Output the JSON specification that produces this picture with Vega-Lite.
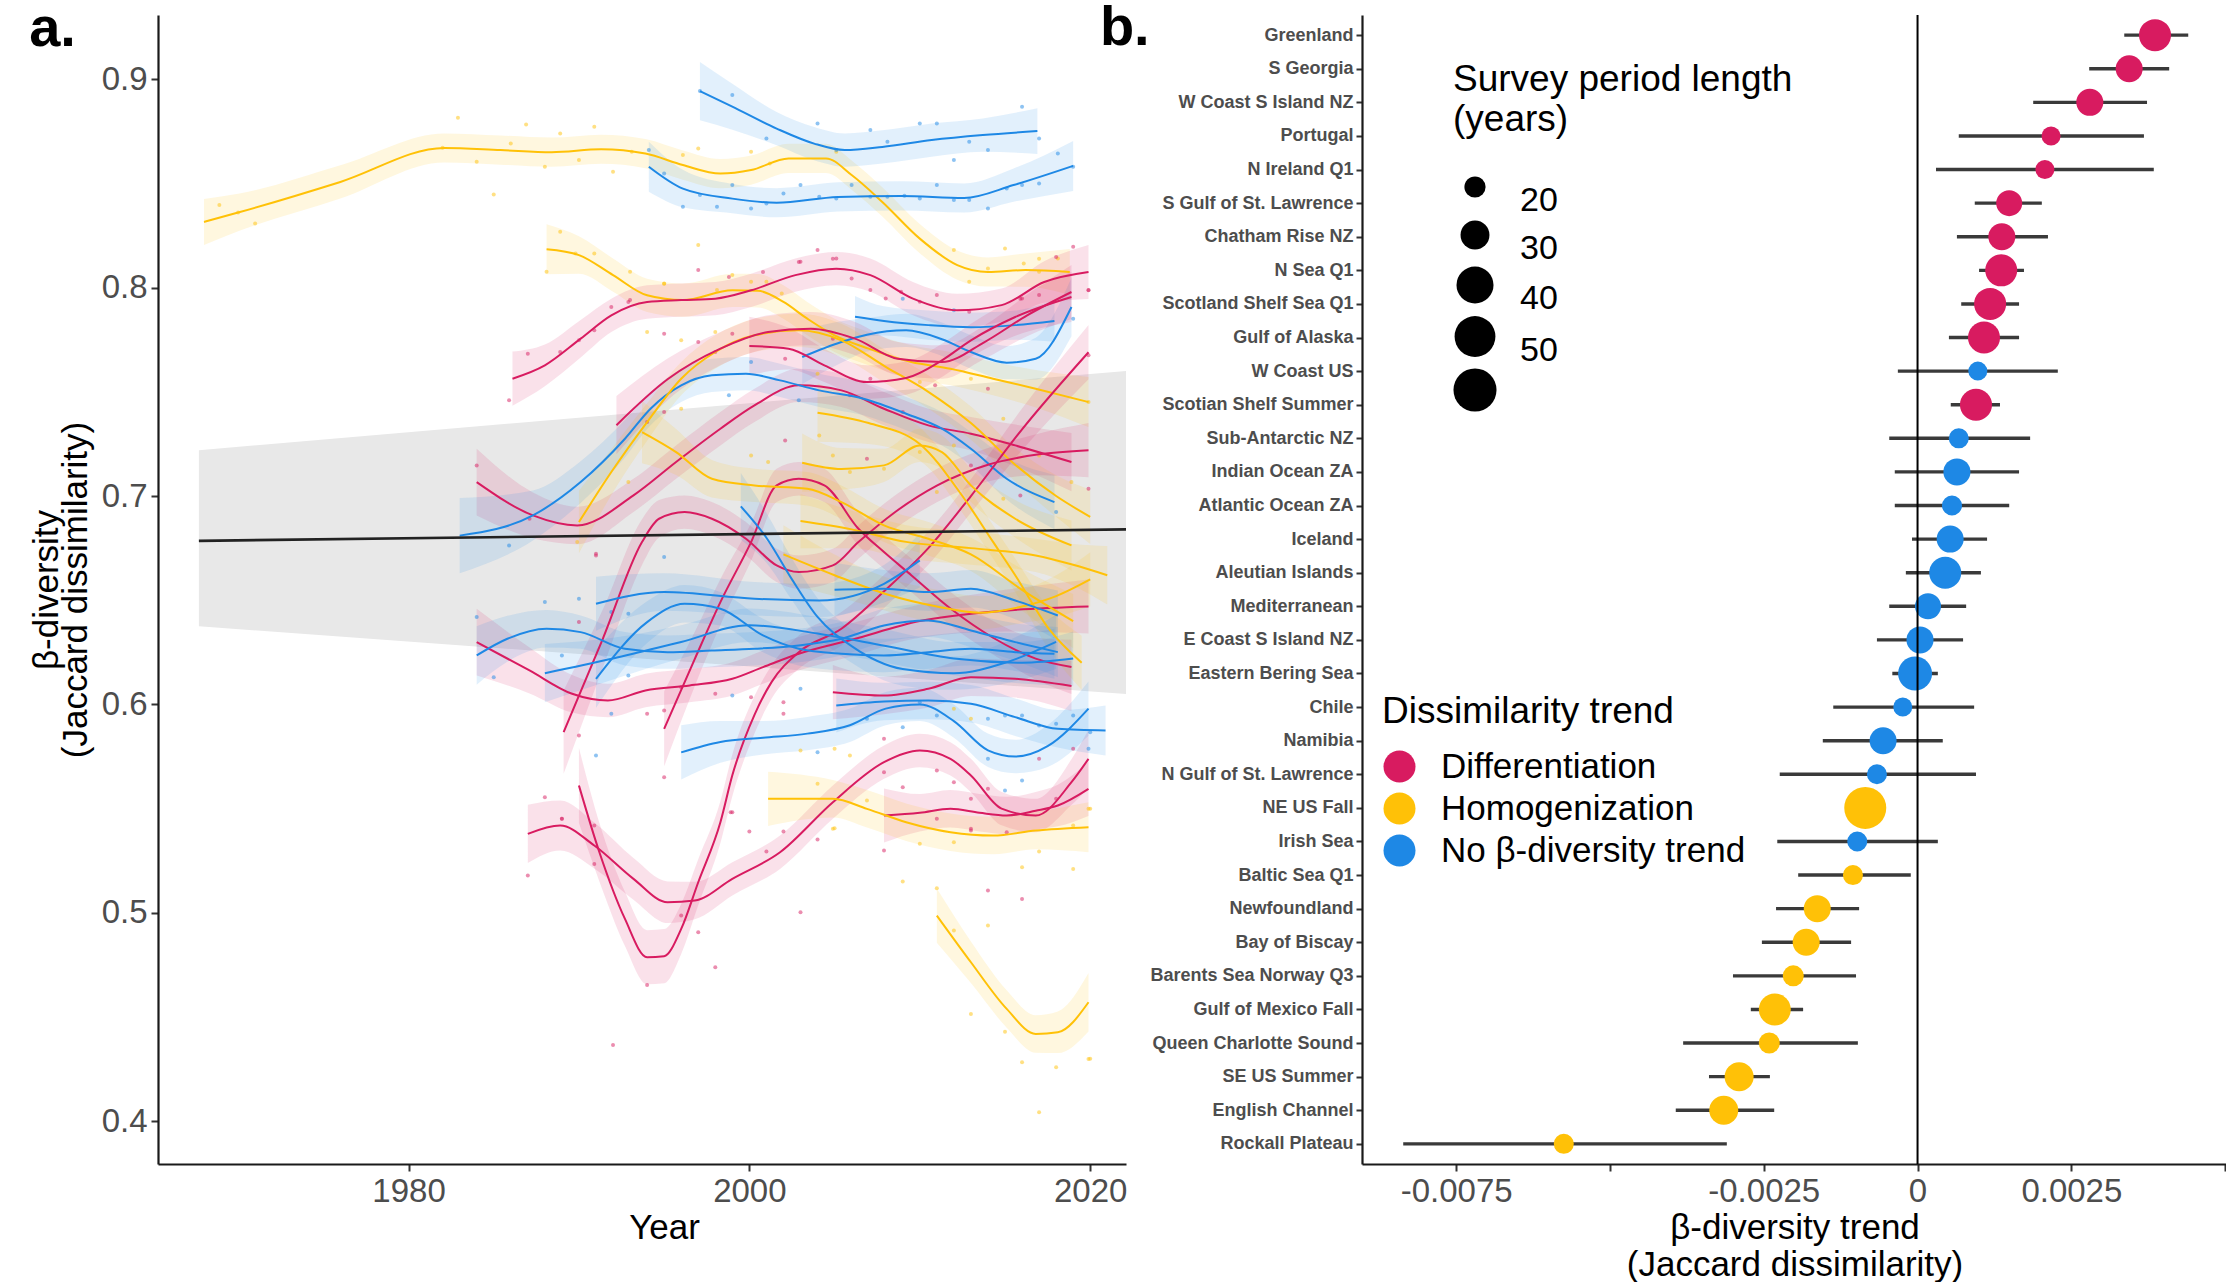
{
"$schema":"https://vega.github.io/schema/vega-lite/v6.json",
"background":"white",
"padding":{"left":29,"top":0,"right":0,"bottom":0},
"config":{"view":{"stroke":null},"font":"Liberation Sans",
"axis":{"grid":false,"labelFont":"Liberation Sans","titleFont":"Liberation Sans","labelColor":"#4d4d4d","titleColor":"#000000","titleFontWeight":"normal","domainColor":"#1a1a1a","domainWidth":2.2,"tickColor":"#333333","tickWidth":2,"tickSize":7,"labelFontSize":33,"titleFontSize":35,"labelPadding":4,"labelOverlap":false},
"legend":{"labelFont":"Liberation Sans","titleFont":"Liberation Sans"},
"title":{"font":"Liberation Sans"}},
"datasets":{
"fit":[{"yr":1967.7,"v":0.6785,"lo":0.6375,"hi":0.722},{"yr":2022.1,"v":0.684,"lo":0.605,"hi":0.76}],
"curves":[
{"s":"Y1","g":"H","yr":1968.0,"v":0.8315,"lo":0.8205,"hi":0.8425},{"s":"Y1","g":"H","yr":1970.0,"v":0.836,"lo":0.827,"hi":0.845},{"s":"Y1","g":"H","yr":1976.0,"v":0.8507,"lo":0.8427,"hi":0.8587},{"s":"Y1","g":"H","yr":1982.1,"v":0.867,"lo":0.86,"hi":0.874},{"s":"Y1","g":"H","yr":1985.4,"v":0.866,"lo":0.859,"hi":0.873},{"s":"Y1","g":"H","yr":1988.4,"v":0.865,"lo":0.858,"hi":0.872},{"s":"Y1","g":"H","yr":1991.3,"v":0.8664,"lo":0.8594,"hi":0.8734},{"s":"Y1","g":"H","yr":1993.9,"v":0.8643,"lo":0.8573,"hi":0.8713},{"s":"Y1","g":"H","yr":1996.1,"v":0.8588,"lo":0.8518,"hi":0.8658},{"s":"Y1","g":"H","yr":1998.3,"v":0.8547,"lo":0.8477,"hi":0.8617},{"s":"Y1","g":"H","yr":2000.1,"v":0.8564,"lo":0.8494,"hi":0.8634},{"s":"Y1","g":"H","yr":2002.3,"v":0.862,"lo":0.855,"hi":0.869},{"s":"Y1","g":"H","yr":2004.5,"v":0.862,"lo":0.855,"hi":0.869},{"s":"Y1","g":"H","yr":2006.0,"v":0.854,"lo":0.847,"hi":0.861},{"s":"Y1","g":"H","yr":2007.8,"v":0.8411,"lo":0.8341,"hi":0.8481},{"s":"Y1","g":"H","yr":2010.0,"v":0.8235,"lo":0.8165,"hi":0.8305},{"s":"Y1","g":"H","yr":2012.2,"v":0.8108,"lo":0.8038,"hi":0.8178},{"s":"Y1","g":"H","yr":2014.0,"v":0.8075,"lo":0.8005,"hi":0.8145},{"s":"Y1","g":"H","yr":2016.2,"v":0.8084,"lo":0.8004,"hi":0.8164},{"s":"Y1","g":"H","yr":2018.8,"v":0.8075,"lo":0.7965,"hi":0.8185},
{"s":"B1","g":"N","yr":1997.1,"v":0.8943,"lo":0.8803,"hi":0.9083},{"s":"B1","g":"N","yr":1999.0,"v":0.8868,"lo":0.8758,"hi":0.8978},{"s":"B1","g":"N","yr":2001.6,"v":0.8763,"lo":0.8683,"hi":0.8843},{"s":"B1","g":"N","yr":2003.8,"v":0.8691,"lo":0.8611,"hi":0.8771},{"s":"B1","g":"N","yr":2005.6,"v":0.866,"lo":0.858,"hi":0.874},{"s":"B1","g":"N","yr":2007.8,"v":0.8675,"lo":0.8595,"hi":0.8755},{"s":"B1","g":"N","yr":2010.7,"v":0.8708,"lo":0.8628,"hi":0.8788},{"s":"B1","g":"N","yr":2013.7,"v":0.8732,"lo":0.8652,"hi":0.8812},{"s":"B1","g":"N","yr":2016.9,"v":0.8751,"lo":0.8641,"hi":0.8861},
{"s":"B2","g":"N","yr":1994.1,"v":0.858,"lo":0.846,"hi":0.87},{"s":"B2","g":"N","yr":1996.1,"v":0.8475,"lo":0.8385,"hi":0.8565},{"s":"B2","g":"N","yr":1999.0,"v":0.8427,"lo":0.8357,"hi":0.8497},{"s":"B2","g":"N","yr":2001.6,"v":0.8407,"lo":0.8337,"hi":0.8477},{"s":"B2","g":"N","yr":2005.2,"v":0.8435,"lo":0.8365,"hi":0.8505},{"s":"B2","g":"N","yr":2008.9,"v":0.844,"lo":0.837,"hi":0.851},{"s":"B2","g":"N","yr":2012.6,"v":0.843,"lo":0.836,"hi":0.85},{"s":"B2","g":"N","yr":2015.5,"v":0.8492,"lo":0.8412,"hi":0.8572},{"s":"B2","g":"N","yr":2019.0,"v":0.8584,"lo":0.8464,"hi":0.8704},
{"s":"Y2","g":"H","yr":1988.1,"v":0.8184,"lo":0.8064,"hi":0.8304},{"s":"Y2","g":"H","yr":1990.0,"v":0.8156,"lo":0.8066,"hi":0.8246},{"s":"Y2","g":"H","yr":1992.0,"v":0.806,"lo":0.798,"hi":0.814},{"s":"Y2","g":"H","yr":1994.0,"v":0.7963,"lo":0.7883,"hi":0.8043},{"s":"Y2","g":"H","yr":1996.1,"v":0.794,"lo":0.786,"hi":0.802},{"s":"Y2","g":"H","yr":1999.0,"v":0.7987,"lo":0.7907,"hi":0.8067},{"s":"Y2","g":"H","yr":2000.5,"v":0.7985,"lo":0.7905,"hi":0.8065},{"s":"Y2","g":"H","yr":2002.0,"v":0.7931,"lo":0.7851,"hi":0.8011},{"s":"Y2","g":"H","yr":2003.4,"v":0.7851,"lo":0.7771,"hi":0.7931},{"s":"Y2","g":"H","yr":2005.0,"v":0.7771,"lo":0.7691,"hi":0.7851},{"s":"Y2","g":"H","yr":2007.0,"v":0.7707,"lo":0.7627,"hi":0.7787},{"s":"Y2","g":"H","yr":2009.5,"v":0.7643,"lo":0.7563,"hi":0.7723},{"s":"Y2","g":"H","yr":2011.8,"v":0.7611,"lo":0.7531,"hi":0.7691},{"s":"Y2","g":"H","yr":2014.3,"v":0.7563,"lo":0.7483,"hi":0.7643},{"s":"Y2","g":"H","yr":2016.8,"v":0.7515,"lo":0.7425,"hi":0.7605},{"s":"Y2","g":"H","yr":2019.9,"v":0.7451,"lo":0.7331,"hi":0.7571},
{"s":"R1","g":"D","yr":1986.1,"v":0.7563,"lo":0.7433,"hi":0.7693},{"s":"R1","g":"D","yr":1988.0,"v":0.7627,"lo":0.7527,"hi":0.7727},{"s":"R1","g":"D","yr":1990.1,"v":0.7755,"lo":0.7665,"hi":0.7845},{"s":"R1","g":"D","yr":1991.9,"v":0.7867,"lo":0.7787,"hi":0.7947},{"s":"R1","g":"D","yr":1994.0,"v":0.7931,"lo":0.7851,"hi":0.8011},{"s":"R1","g":"D","yr":1996.0,"v":0.794,"lo":0.786,"hi":0.802},{"s":"R1","g":"D","yr":1998.0,"v":0.7947,"lo":0.7867,"hi":0.8027},{"s":"R1","g":"D","yr":2000.1,"v":0.7987,"lo":0.7907,"hi":0.8067},{"s":"R1","g":"D","yr":2002.7,"v":0.806,"lo":0.798,"hi":0.814},{"s":"R1","g":"D","yr":2005.1,"v":0.8091,"lo":0.8011,"hi":0.8171},{"s":"R1","g":"D","yr":2007.1,"v":0.806,"lo":0.798,"hi":0.814},{"s":"R1","g":"D","yr":2009.6,"v":0.7947,"lo":0.7867,"hi":0.8027},{"s":"R1","g":"D","yr":2012.2,"v":0.7891,"lo":0.7811,"hi":0.7971},{"s":"R1","g":"D","yr":2014.8,"v":0.7916,"lo":0.7836,"hi":0.7996},{"s":"R1","g":"D","yr":2017.3,"v":0.8027,"lo":0.7927,"hi":0.8127},{"s":"R1","g":"D","yr":2019.9,"v":0.8075,"lo":0.7945,"hi":0.8205},
{"s":"B3","g":"N","yr":2006.2,"v":0.786,"lo":0.776,"hi":0.796},{"s":"B3","g":"N","yr":2007.9,"v":0.784,"lo":0.777,"hi":0.791},{"s":"B3","g":"N","yr":2010.5,"v":0.782,"lo":0.775,"hi":0.789},{"s":"B3","g":"N","yr":2013.0,"v":0.781,"lo":0.774,"hi":0.788},{"s":"B3","g":"N","yr":2015.6,"v":0.782,"lo":0.775,"hi":0.789},{"s":"B3","g":"N","yr":2017.9,"v":0.784,"lo":0.774,"hi":0.794},
{"s":"B4","g":"N","yr":2003.1,"v":0.7667,"lo":0.7537,"hi":0.7797},{"s":"B4","g":"N","yr":2005.4,"v":0.7739,"lo":0.7639,"hi":0.7839},{"s":"B4","g":"N","yr":2006.9,"v":0.7774,"lo":0.7694,"hi":0.7854},{"s":"B4","g":"N","yr":2009.2,"v":0.7795,"lo":0.7715,"hi":0.7875},{"s":"B4","g":"N","yr":2011.3,"v":0.7752,"lo":0.7672,"hi":0.7832},{"s":"B4","g":"N","yr":2013.0,"v":0.7691,"lo":0.7611,"hi":0.7771},{"s":"B4","g":"N","yr":2015.1,"v":0.764,"lo":0.756,"hi":0.772},{"s":"B4","g":"N","yr":2016.8,"v":0.7659,"lo":0.7559,"hi":0.7759},{"s":"B4","g":"N","yr":2018.9,"v":0.7907,"lo":0.7767,"hi":0.8047},
{"s":"RL","g":"D","yr":1984.0,"v":0.7067,"lo":0.6907,"hi":0.7227},{"s":"RL","g":"D","yr":1987.3,"v":0.6907,"lo":0.6797,"hi":0.7017},{"s":"RL","g":"D","yr":1989.9,"v":0.6859,"lo":0.6769,"hi":0.6949},{"s":"RL","g":"D","yr":1993.2,"v":0.7003,"lo":0.6923,"hi":0.7083},{"s":"RL","g":"D","yr":1995.7,"v":0.7163,"lo":0.7083,"hi":0.7243},{"s":"RL","g":"D","yr":1998.3,"v":0.7323,"lo":0.7243,"hi":0.7403},{"s":"RL","g":"D","yr":2000.3,"v":0.7435,"lo":0.7355,"hi":0.7515},{"s":"RL","g":"D","yr":2002.9,"v":0.7531,"lo":0.7451,"hi":0.7611},{"s":"RL","g":"D","yr":2005.4,"v":0.7507,"lo":0.7427,"hi":0.7587},{"s":"RL","g":"D","yr":2007.9,"v":0.7419,"lo":0.7339,"hi":0.7499},{"s":"RL","g":"D","yr":2010.5,"v":0.7339,"lo":0.7259,"hi":0.7419},{"s":"RL","g":"D","yr":2013.0,"v":0.7299,"lo":0.7219,"hi":0.7379},{"s":"RL","g":"D","yr":2015.6,"v":0.7243,"lo":0.7143,"hi":0.7343},{"s":"RL","g":"D","yr":2018.9,"v":0.7163,"lo":0.7023,"hi":0.7303},
{"s":"B5","g":"N","yr":1983.0,"v":0.681,"lo":0.663,"hi":0.699},{"s":"B5","g":"N","yr":1987.3,"v":0.6907,"lo":0.6787,"hi":0.7027},{"s":"B5","g":"N","yr":1990.1,"v":0.7067,"lo":0.6967,"hi":0.7167},{"s":"B5","g":"N","yr":1992.7,"v":0.7275,"lo":0.7185,"hi":0.7365},{"s":"B5","g":"N","yr":1994.2,"v":0.7419,"lo":0.7339,"hi":0.7499},{"s":"B5","g":"N","yr":1996.0,"v":0.7531,"lo":0.7451,"hi":0.7611},{"s":"B5","g":"N","yr":1997.8,"v":0.7579,"lo":0.7499,"hi":0.7659},{"s":"B5","g":"N","yr":1999.8,"v":0.7587,"lo":0.7507,"hi":0.7667},{"s":"B5","g":"N","yr":2001.8,"v":0.7555,"lo":0.7475,"hi":0.7635},{"s":"B5","g":"N","yr":2004.1,"v":0.7507,"lo":0.7427,"hi":0.7587},{"s":"B5","g":"N","yr":2006.7,"v":0.7467,"lo":0.7387,"hi":0.7547},{"s":"B5","g":"N","yr":2009.2,"v":0.7395,"lo":0.7315,"hi":0.7475},{"s":"B5","g":"N","yr":2011.3,"v":0.7323,"lo":0.7243,"hi":0.7403},{"s":"B5","g":"N","yr":2013.0,"v":0.7227,"lo":0.7147,"hi":0.7307},{"s":"B5","g":"N","yr":2015.1,"v":0.7083,"lo":0.6983,"hi":0.7183},{"s":"B5","g":"N","yr":2017.9,"v":0.6971,"lo":0.6841,"hi":0.7101},
{"s":"Y3","g":"H","yr":1990.0,"v":0.6875,"lo":0.6725,"hi":0.7025},{"s":"Y3","g":"H","yr":1991.9,"v":0.7115,"lo":0.7005,"hi":0.7225},{"s":"Y3","g":"H","yr":1994.0,"v":0.7355,"lo":0.7265,"hi":0.7445},{"s":"Y3","g":"H","yr":1996.0,"v":0.7563,"lo":0.7483,"hi":0.7643},{"s":"Y3","g":"H","yr":1998.0,"v":0.7691,"lo":0.7611,"hi":0.7771},{"s":"Y3","g":"H","yr":2000.3,"v":0.7771,"lo":0.7691,"hi":0.7851},{"s":"Y3","g":"H","yr":2002.9,"v":0.7795,"lo":0.7715,"hi":0.7875},{"s":"Y3","g":"H","yr":2005.4,"v":0.7747,"lo":0.7667,"hi":0.7827},{"s":"Y3","g":"H","yr":2008.0,"v":0.762,"lo":0.754,"hi":0.77},{"s":"Y3","g":"H","yr":2010.5,"v":0.75,"lo":0.742,"hi":0.758},{"s":"Y3","g":"H","yr":2013.0,"v":0.735,"lo":0.727,"hi":0.743},{"s":"Y3","g":"H","yr":2015.6,"v":0.715,"lo":0.707,"hi":0.723},{"s":"Y3","g":"H","yr":2018.0,"v":0.7,"lo":0.69,"hi":0.71},{"s":"Y3","g":"H","yr":2020.0,"v":0.69,"lo":0.677,"hi":0.703},
{"s":"R3","g":"D","yr":1992.2,"v":0.734,"lo":0.72,"hi":0.748},{"s":"R3","g":"D","yr":1995.2,"v":0.756,"lo":0.746,"hi":0.766},{"s":"R3","g":"D","yr":1998.3,"v":0.7707,"lo":0.7627,"hi":0.7787},{"s":"R3","g":"D","yr":2001.1,"v":0.7787,"lo":0.7707,"hi":0.7867},{"s":"R3","g":"D","yr":2003.6,"v":0.7803,"lo":0.7723,"hi":0.7883},{"s":"R3","g":"D","yr":2006.2,"v":0.7755,"lo":0.7675,"hi":0.7835},{"s":"R3","g":"D","yr":2008.7,"v":0.7659,"lo":0.7579,"hi":0.7739},{"s":"R3","g":"D","yr":2011.3,"v":0.7643,"lo":0.7563,"hi":0.7723},{"s":"R3","g":"D","yr":2013.8,"v":0.7739,"lo":0.7659,"hi":0.7819},{"s":"R3","g":"D","yr":2016.3,"v":0.7867,"lo":0.7767,"hi":0.7967},{"s":"R3","g":"D","yr":2018.9,"v":0.7979,"lo":0.7849,"hi":0.8109},
{"s":"R4","g":"D","yr":2000.0,"v":0.772,"lo":0.758,"hi":0.786},{"s":"R4","g":"D","yr":2002.3,"v":0.7707,"lo":0.7607,"hi":0.7807},{"s":"R4","g":"D","yr":2004.4,"v":0.7627,"lo":0.7547,"hi":0.7707},{"s":"R4","g":"D","yr":2006.9,"v":0.7547,"lo":0.7467,"hi":0.7627},{"s":"R4","g":"D","yr":2009.2,"v":0.7566,"lo":0.7486,"hi":0.7646},{"s":"R4","g":"D","yr":2011.3,"v":0.7651,"lo":0.7571,"hi":0.7731},{"s":"R4","g":"D","yr":2013.0,"v":0.7747,"lo":0.7667,"hi":0.7827},{"s":"R4","g":"D","yr":2015.6,"v":0.7859,"lo":0.7769,"hi":0.7949},{"s":"R4","g":"D","yr":2018.9,"v":0.7955,"lo":0.7835,"hi":0.8075},
{"s":"R5","g":"D","yr":1990.0,"v":0.5611,"lo":0.5431,"hi":0.5791},{"s":"R5","g":"D","yr":1991.2,"v":0.5291,"lo":0.5151,"hi":0.5431},{"s":"R5","g":"D","yr":1992.7,"v":0.4971,"lo":0.4841,"hi":0.5101},{"s":"R5","g":"D","yr":1994.0,"v":0.4787,"lo":0.4657,"hi":0.4917},{"s":"R5","g":"D","yr":1995.0,"v":0.4792,"lo":0.4662,"hi":0.4922},{"s":"R5","g":"D","yr":1996.0,"v":0.4923,"lo":0.4803,"hi":0.5043},{"s":"R5","g":"D","yr":1997.0,"v":0.5147,"lo":0.5037,"hi":0.5257},{"s":"R5","g":"D","yr":1998.3,"v":0.5435,"lo":0.5335,"hi":0.5535},{"s":"R5","g":"D","yr":1999.0,"v":0.566,"lo":0.556,"hi":0.576},{"s":"R5","g":"D","yr":2000.3,"v":0.595,"lo":0.586,"hi":0.604},{"s":"R5","g":"D","yr":2001.3,"v":0.6107,"lo":0.6027,"hi":0.6187},{"s":"R5","g":"D","yr":2002.9,"v":0.6251,"lo":0.6171,"hi":0.6331},{"s":"R5","g":"D","yr":2005.4,"v":0.6363,"lo":0.6283,"hi":0.6443},{"s":"R5","g":"D","yr":2008.0,"v":0.655,"lo":0.647,"hi":0.663},{"s":"R5","g":"D","yr":2010.5,"v":0.675,"lo":0.667,"hi":0.683},{"s":"R5","g":"D","yr":2013.0,"v":0.7,"lo":0.692,"hi":0.708},{"s":"R5","g":"D","yr":2016.0,"v":0.732,"lo":0.722,"hi":0.742},{"s":"R5","g":"D","yr":2019.9,"v":0.769,"lo":0.756,"hi":0.782},
{"s":"R6","g":"D","yr":1989.1,"v":0.5867,"lo":0.5667,"hi":0.6067},{"s":"R6","g":"D","yr":1991.4,"v":0.6315,"lo":0.6175,"hi":0.6455},{"s":"R6","g":"D","yr":1993.7,"v":0.6779,"lo":0.6669,"hi":0.6889},{"s":"R6","g":"D","yr":1994.7,"v":0.6891,"lo":0.6801,"hi":0.6981},{"s":"R6","g":"D","yr":1996.2,"v":0.6923,"lo":0.6843,"hi":0.7003},{"s":"R6","g":"D","yr":1997.8,"v":0.6891,"lo":0.6811,"hi":0.6971},{"s":"R6","g":"D","yr":1999.8,"v":0.6795,"lo":0.6715,"hi":0.6875},{"s":"R6","g":"D","yr":2001.6,"v":0.6667,"lo":0.6587,"hi":0.6747},{"s":"R6","g":"D","yr":2002.9,"v":0.6635,"lo":0.6555,"hi":0.6715},{"s":"R6","g":"D","yr":2004.9,"v":0.6667,"lo":0.6587,"hi":0.6747},{"s":"R6","g":"D","yr":2006.4,"v":0.6779,"lo":0.6699,"hi":0.6859},{"s":"R6","g":"D","yr":2008.5,"v":0.692,"lo":0.684,"hi":0.7},{"s":"R6","g":"D","yr":2011.0,"v":0.705,"lo":0.697,"hi":0.713},{"s":"R6","g":"D","yr":2014.0,"v":0.715,"lo":0.707,"hi":0.723},{"s":"R6","g":"D","yr":2017.0,"v":0.72,"lo":0.71,"hi":0.73},{"s":"R6","g":"D","yr":2019.9,"v":0.722,"lo":0.709,"hi":0.735},
{"s":"R7","g":"D","yr":1995.0,"v":0.5883,"lo":0.5703,"hi":0.6063},{"s":"R7","g":"D","yr":1996.8,"v":0.6219,"lo":0.6089,"hi":0.6349},{"s":"R7","g":"D","yr":1998.3,"v":0.6491,"lo":0.6381,"hi":0.6601},{"s":"R7","g":"D","yr":2000.1,"v":0.6779,"lo":0.6689,"hi":0.6869},{"s":"R7","g":"D","yr":2001.6,"v":0.7051,"lo":0.6971,"hi":0.7131},{"s":"R7","g":"D","yr":2002.9,"v":0.7083,"lo":0.7003,"hi":0.7163},{"s":"R7","g":"D","yr":2004.4,"v":0.7051,"lo":0.6971,"hi":0.7131},{"s":"R7","g":"D","yr":2006.4,"v":0.6843,"lo":0.6763,"hi":0.6923},{"s":"R7","g":"D","yr":2007.9,"v":0.6731,"lo":0.6651,"hi":0.6811},{"s":"R7","g":"D","yr":2009.5,"v":0.662,"lo":0.654,"hi":0.67},{"s":"R7","g":"D","yr":2011.8,"v":0.646,"lo":0.638,"hi":0.654},{"s":"R7","g":"D","yr":2014.3,"v":0.632,"lo":0.624,"hi":0.64},{"s":"R7","g":"D","yr":2016.8,"v":0.622,"lo":0.612,"hi":0.632},{"s":"R7","g":"D","yr":2018.9,"v":0.618,"lo":0.605,"hi":0.631},
{"s":"V1","g":"D","yr":1987.0,"v":0.5379,"lo":0.5239,"hi":0.5519},{"s":"V1","g":"D","yr":1988.9,"v":0.5419,"lo":0.5299,"hi":0.5539},{"s":"V1","g":"D","yr":1990.9,"v":0.5323,"lo":0.5213,"hi":0.5433},{"s":"V1","g":"D","yr":1993.2,"v":0.5163,"lo":0.5063,"hi":0.5263},{"s":"V1","g":"D","yr":1995.2,"v":0.5051,"lo":0.4951,"hi":0.5151},{"s":"V1","g":"D","yr":1996.8,"v":0.5059,"lo":0.4969,"hi":0.5149},{"s":"V1","g":"D","yr":1999.0,"v":0.5163,"lo":0.5083,"hi":0.5243},{"s":"V1","g":"D","yr":2001.8,"v":0.5291,"lo":0.5211,"hi":0.5371},{"s":"V1","g":"D","yr":2004.9,"v":0.5531,"lo":0.5451,"hi":0.5611},{"s":"V1","g":"D","yr":2007.9,"v":0.5723,"lo":0.5643,"hi":0.5803},{"s":"V1","g":"D","yr":2010.0,"v":0.5779,"lo":0.5699,"hi":0.5859},{"s":"V1","g":"D","yr":2011.8,"v":0.5739,"lo":0.5659,"hi":0.5819},{"s":"V1","g":"D","yr":2013.0,"v":0.5659,"lo":0.5579,"hi":0.5739},{"s":"V1","g":"D","yr":2014.8,"v":0.55,"lo":0.542,"hi":0.558},{"s":"V1","g":"D","yr":2016.8,"v":0.5467,"lo":0.5387,"hi":0.5547},{"s":"V1","g":"D","yr":2018.9,"v":0.5627,"lo":0.5517,"hi":0.5737},{"s":"V1","g":"D","yr":2019.9,"v":0.5739,"lo":0.5599,"hi":0.5879},
{"s":"RLo","g":"D","yr":1984.0,"v":0.6299,"lo":0.6139,"hi":0.6459},{"s":"RLo","g":"D","yr":1987.1,"v":0.6163,"lo":0.6053,"hi":0.6273},{"s":"RLo","g":"D","yr":1989.6,"v":0.6051,"lo":0.5961,"hi":0.6141},{"s":"RLo","g":"D","yr":1991.7,"v":0.6019,"lo":0.5939,"hi":0.6099},{"s":"RLo","g":"D","yr":1993.9,"v":0.6067,"lo":0.5987,"hi":0.6147},{"s":"RLo","g":"D","yr":1996.5,"v":0.6091,"lo":0.6011,"hi":0.6171},{"s":"RLo","g":"D","yr":1999.0,"v":0.6123,"lo":0.6043,"hi":0.6203},{"s":"RLo","g":"D","yr":2000.8,"v":0.6179,"lo":0.6099,"hi":0.6259},{"s":"RLo","g":"D","yr":2002.9,"v":0.6243,"lo":0.6163,"hi":0.6323},{"s":"RLo","g":"D","yr":2006.0,"v":0.631,"lo":0.623,"hi":0.639},{"s":"RLo","g":"D","yr":2010.0,"v":0.64,"lo":0.632,"hi":0.648},{"s":"RLo","g":"D","yr":2015.0,"v":0.645,"lo":0.635,"hi":0.655},{"s":"RLo","g":"D","yr":2019.9,"v":0.647,"lo":0.634,"hi":0.66},
{"s":"RF","g":"D","yr":2007.9,"v":0.5467,"lo":0.5337,"hi":0.5597},{"s":"RF","g":"D","yr":2010.0,"v":0.548,"lo":0.539,"hi":0.557},{"s":"RF","g":"D","yr":2011.8,"v":0.5499,"lo":0.5409,"hi":0.5589},{"s":"RF","g":"D","yr":2013.5,"v":0.548,"lo":0.539,"hi":0.557},{"s":"RF","g":"D","yr":2015.1,"v":0.5467,"lo":0.5377,"hi":0.5557},{"s":"RF","g":"D","yr":2016.8,"v":0.549,"lo":0.54,"hi":0.558},{"s":"RF","g":"D","yr":2018.1,"v":0.5515,"lo":0.5415,"hi":0.5615},{"s":"RF","g":"D","yr":2019.9,"v":0.5595,"lo":0.5465,"hi":0.5725},
{"s":"R609","g":"D","yr":2004.9,"v":0.6059,"lo":0.5929,"hi":0.6189},{"s":"R609","g":"D","yr":2007.9,"v":0.6043,"lo":0.5953,"hi":0.6133},{"s":"R609","g":"D","yr":2010.5,"v":0.6075,"lo":0.5985,"hi":0.6165},{"s":"R609","g":"D","yr":2013.0,"v":0.6131,"lo":0.6041,"hi":0.6221},{"s":"R609","g":"D","yr":2015.6,"v":0.6123,"lo":0.6033,"hi":0.6213},{"s":"R609","g":"D","yr":2018.9,"v":0.6088,"lo":0.5968,"hi":0.6208},
{"s":"Y4","g":"H","yr":1993.7,"v":0.7307,"lo":0.7157,"hi":0.7457},{"s":"Y4","g":"H","yr":1995.7,"v":0.7211,"lo":0.7101,"hi":0.7321},{"s":"Y4","g":"H","yr":1997.8,"v":0.7083,"lo":0.6993,"hi":0.7173},{"s":"Y4","g":"H","yr":2000.3,"v":0.7051,"lo":0.6971,"hi":0.7131},{"s":"Y4","g":"H","yr":2003.4,"v":0.7035,"lo":0.6955,"hi":0.7115},{"s":"Y4","g":"H","yr":2005.4,"v":0.6971,"lo":0.6891,"hi":0.7051},{"s":"Y4","g":"H","yr":2007.9,"v":0.6859,"lo":0.6779,"hi":0.6939},{"s":"Y4","g":"H","yr":2010.5,"v":0.6795,"lo":0.6715,"hi":0.6875},{"s":"Y4","g":"H","yr":2013.0,"v":0.672,"lo":0.664,"hi":0.68},{"s":"Y4","g":"H","yr":2016.0,"v":0.655,"lo":0.645,"hi":0.665},{"s":"Y4","g":"H","yr":2019.0,"v":0.64,"lo":0.627,"hi":0.653},
{"s":"Y5","g":"H","yr":2003.1,"v":0.716,"lo":0.702,"hi":0.73},{"s":"Y5","g":"H","yr":2005.4,"v":0.713,"lo":0.703,"hi":0.723},{"s":"Y5","g":"H","yr":2007.9,"v":0.7147,"lo":0.7067,"hi":0.7227},{"s":"Y5","g":"H","yr":2010.0,"v":0.7243,"lo":0.7163,"hi":0.7323},{"s":"Y5","g":"H","yr":2011.3,"v":0.7211,"lo":0.7131,"hi":0.7291},{"s":"Y5","g":"H","yr":2013.0,"v":0.7051,"lo":0.6971,"hi":0.7131},{"s":"Y5","g":"H","yr":2015.6,"v":0.6891,"lo":0.6801,"hi":0.6981},{"s":"Y5","g":"H","yr":2018.9,"v":0.6763,"lo":0.6643,"hi":0.6883},
{"s":"Y6","g":"H","yr":2003.0,"v":0.688,"lo":0.675,"hi":0.701},{"s":"Y6","g":"H","yr":2006.0,"v":0.684,"lo":0.675,"hi":0.693},{"s":"Y6","g":"H","yr":2009.2,"v":0.678,"lo":0.67,"hi":0.686},{"s":"Y6","g":"H","yr":2013.0,"v":0.675,"lo":0.667,"hi":0.683},{"s":"Y6","g":"H","yr":2016.8,"v":0.6715,"lo":0.6635,"hi":0.6795},{"s":"Y6","g":"H","yr":2019.0,"v":0.667,"lo":0.657,"hi":0.677},{"s":"Y6","g":"H","yr":2021.0,"v":0.662,"lo":0.648,"hi":0.676},
{"s":"Y7","g":"H","yr":2002.0,"v":0.672,"lo":0.658,"hi":0.686},{"s":"Y7","g":"H","yr":2005.0,"v":0.662,"lo":0.652,"hi":0.672},{"s":"Y7","g":"H","yr":2008.0,"v":0.653,"lo":0.645,"hi":0.661},{"s":"Y7","g":"H","yr":2011.0,"v":0.647,"lo":0.639,"hi":0.655},{"s":"Y7","g":"H","yr":2013.5,"v":0.644,"lo":0.636,"hi":0.652},{"s":"Y7","g":"H","yr":2016.0,"v":0.647,"lo":0.639,"hi":0.655},{"s":"Y7","g":"H","yr":2018.0,"v":0.652,"lo":0.642,"hi":0.662},{"s":"Y7","g":"H","yr":2020.0,"v":0.66,"lo":0.647,"hi":0.673},
{"s":"Y8","g":"H","yr":2004.0,"v":0.74,"lo":0.726,"hi":0.754},{"s":"Y8","g":"H","yr":2007.0,"v":0.735,"lo":0.725,"hi":0.745},{"s":"Y8","g":"H","yr":2010.0,"v":0.725,"lo":0.717,"hi":0.733},{"s":"Y8","g":"H","yr":2012.5,"v":0.7,"lo":0.692,"hi":0.708},{"s":"Y8","g":"H","yr":2014.3,"v":0.678,"lo":0.67,"hi":0.686},{"s":"Y8","g":"H","yr":2015.6,"v":0.662,"lo":0.654,"hi":0.67},{"s":"Y8","g":"H","yr":2017.6,"v":0.636,"lo":0.626,"hi":0.646},{"s":"Y8","g":"H","yr":2019.5,"v":0.62,"lo":0.607,"hi":0.633},
{"s":"YL1","g":"H","yr":2001.1,"v":0.5547,"lo":0.5417,"hi":0.5677},{"s":"YL1","g":"H","yr":2004.9,"v":0.5547,"lo":0.5457,"hi":0.5637},{"s":"YL1","g":"H","yr":2006.9,"v":0.5499,"lo":0.5409,"hi":0.5589},{"s":"YL1","g":"H","yr":2009.2,"v":0.5435,"lo":0.5345,"hi":0.5525},{"s":"YL1","g":"H","yr":2011.8,"v":0.5387,"lo":0.5297,"hi":0.5477},{"s":"YL1","g":"H","yr":2014.3,"v":0.5371,"lo":0.5281,"hi":0.5461},{"s":"YL1","g":"H","yr":2016.8,"v":0.5395,"lo":0.5305,"hi":0.5485},{"s":"YL1","g":"H","yr":2019.9,"v":0.5411,"lo":0.5291,"hi":0.5531},
{"s":"YL3","g":"H","yr":2011.0,"v":0.4987,"lo":0.4857,"hi":0.5117},{"s":"YL3","g":"H","yr":2013.0,"v":0.4763,"lo":0.4663,"hi":0.4863},{"s":"YL3","g":"H","yr":2015.1,"v":0.4539,"lo":0.4449,"hi":0.4629},{"s":"YL3","g":"H","yr":2016.8,"v":0.4419,"lo":0.4329,"hi":0.4509},{"s":"YL3","g":"H","yr":2018.1,"v":0.4427,"lo":0.4327,"hi":0.4527},{"s":"YL3","g":"H","yr":2019.9,"v":0.4571,"lo":0.4431,"hi":0.4711},
{"s":"B6","g":"N","yr":1991.0,"v":0.6483,"lo":0.6353,"hi":0.6613},{"s":"B6","g":"N","yr":1995.0,"v":0.6539,"lo":0.6449,"hi":0.6629},{"s":"B6","g":"N","yr":2000.3,"v":0.6507,"lo":0.6427,"hi":0.6587},{"s":"B6","g":"N","yr":2004.1,"v":0.6499,"lo":0.6419,"hi":0.6579},{"s":"B6","g":"N","yr":2007.9,"v":0.6579,"lo":0.6489,"hi":0.6669},{"s":"B6","g":"N","yr":2010.0,"v":0.6691,"lo":0.6561,"hi":0.6821},
{"s":"B7","g":"N","yr":1991.0,"v":0.6123,"lo":0.5983,"hi":0.6263},{"s":"B7","g":"N","yr":1994.0,"v":0.6395,"lo":0.6295,"hi":0.6495},{"s":"B7","g":"N","yr":1996.2,"v":0.6483,"lo":0.6393,"hi":0.6573},{"s":"B7","g":"N","yr":1998.3,"v":0.6459,"lo":0.6379,"hi":0.6539},{"s":"B7","g":"N","yr":2000.8,"v":0.6331,"lo":0.6251,"hi":0.6411},{"s":"B7","g":"N","yr":2002.9,"v":0.6267,"lo":0.6187,"hi":0.6347},{"s":"B7","g":"N","yr":2005.4,"v":0.6243,"lo":0.6163,"hi":0.6323},{"s":"B7","g":"N","yr":2007.9,"v":0.6235,"lo":0.6155,"hi":0.6315},{"s":"B7","g":"N","yr":2010.5,"v":0.6251,"lo":0.6171,"hi":0.6331},{"s":"B7","g":"N","yr":2013.0,"v":0.6267,"lo":0.6187,"hi":0.6347},{"s":"B7","g":"N","yr":2015.6,"v":0.6251,"lo":0.6161,"hi":0.6341},{"s":"B7","g":"N","yr":2017.9,"v":0.6243,"lo":0.6123,"hi":0.6363},
{"s":"B8","g":"N","yr":1984.0,"v":0.6235,"lo":0.6095,"hi":0.6375},{"s":"B8","g":"N","yr":1985.8,"v":0.6315,"lo":0.6205,"hi":0.6425},{"s":"B8","g":"N","yr":1988.1,"v":0.6363,"lo":0.6273,"hi":0.6453},{"s":"B8","g":"N","yr":1990.1,"v":0.6347,"lo":0.6267,"hi":0.6427},{"s":"B8","g":"N","yr":1992.7,"v":0.6267,"lo":0.6187,"hi":0.6347},{"s":"B8","g":"N","yr":1995.2,"v":0.6251,"lo":0.6171,"hi":0.6331},{"s":"B8","g":"N","yr":1997.8,"v":0.6259,"lo":0.6179,"hi":0.6339},{"s":"B8","g":"N","yr":2000.3,"v":0.6267,"lo":0.6187,"hi":0.6347},{"s":"B8","g":"N","yr":2002.9,"v":0.6283,"lo":0.6203,"hi":0.6363},{"s":"B8","g":"N","yr":2005.4,"v":0.6315,"lo":0.6235,"hi":0.6395},{"s":"B8","g":"N","yr":2007.9,"v":0.6379,"lo":0.6299,"hi":0.6459},{"s":"B8","g":"N","yr":2010.5,"v":0.6403,"lo":0.6323,"hi":0.6483},{"s":"B8","g":"N","yr":2013.0,"v":0.6355,"lo":0.6275,"hi":0.6435},{"s":"B8","g":"N","yr":2015.6,"v":0.6299,"lo":0.6209,"hi":0.6389},{"s":"B8","g":"N","yr":2018.1,"v":0.6251,"lo":0.6131,"hi":0.6371},
{"s":"B10","g":"N","yr":2005.1,"v":0.5995,"lo":0.5865,"hi":0.6125},{"s":"B10","g":"N","yr":2007.9,"v":0.6014,"lo":0.5924,"hi":0.6104},{"s":"B10","g":"N","yr":2010.5,"v":0.6019,"lo":0.5929,"hi":0.6109},{"s":"B10","g":"N","yr":2013.0,"v":0.6003,"lo":0.5913,"hi":0.6093},{"s":"B10","g":"N","yr":2015.6,"v":0.5939,"lo":0.5849,"hi":0.6029},{"s":"B10","g":"N","yr":2018.1,"v":0.5883,"lo":0.5793,"hi":0.5973},{"s":"B10","g":"N","yr":2020.9,"v":0.5875,"lo":0.5755,"hi":0.5995},
{"s":"B11","g":"N","yr":1996.0,"v":0.577,"lo":0.564,"hi":0.59},{"s":"B11","g":"N","yr":1998.3,"v":0.582,"lo":0.572,"hi":0.592},{"s":"B11","g":"N","yr":2000.8,"v":0.584,"lo":0.576,"hi":0.592},{"s":"B11","g":"N","yr":2003.4,"v":0.586,"lo":0.578,"hi":0.594},{"s":"B11","g":"N","yr":2005.9,"v":0.59,"lo":0.582,"hi":0.598},{"s":"B11","g":"N","yr":2008.0,"v":0.598,"lo":0.59,"hi":0.606},{"s":"B11","g":"N","yr":2010.0,"v":0.6,"lo":0.592,"hi":0.608},{"s":"B11","g":"N","yr":2012.0,"v":0.592,"lo":0.584,"hi":0.6},{"s":"B11","g":"N","yr":2014.0,"v":0.578,"lo":0.57,"hi":0.586},{"s":"B11","g":"N","yr":2015.6,"v":0.575,"lo":0.567,"hi":0.583},{"s":"B11","g":"N","yr":2017.5,"v":0.58,"lo":0.57,"hi":0.59},{"s":"B11","g":"N","yr":2019.9,"v":0.598,"lo":0.585,"hi":0.611},
{"s":"B12","g":"N","yr":1999.5,"v":0.695,"lo":0.679,"hi":0.711},{"s":"B12","g":"N","yr":2001.0,"v":0.68,"lo":0.668,"hi":0.692},{"s":"B12","g":"N","yr":2002.5,"v":0.66,"lo":0.65,"hi":0.67},{"s":"B12","g":"N","yr":2004.0,"v":0.642,"lo":0.633,"hi":0.651},{"s":"B12","g":"N","yr":2006.0,"v":0.628,"lo":0.62,"hi":0.636},{"s":"B12","g":"N","yr":2009.0,"v":0.617,"lo":0.609,"hi":0.625},{"s":"B12","g":"N","yr":2012.0,"v":0.615,"lo":0.607,"hi":0.623},{"s":"B12","g":"N","yr":2015.0,"v":0.62,"lo":0.61,"hi":0.63},{"s":"B12","g":"N","yr":2018.0,"v":0.63,"lo":0.617,"hi":0.643},
{"s":"B13","g":"N","yr":2005.0,"v":0.655,"lo":0.642,"hi":0.668},{"s":"B13","g":"N","yr":2007.9,"v":0.6555,"lo":0.6465,"hi":0.6645},{"s":"B13","g":"N","yr":2010.5,"v":0.6539,"lo":0.6449,"hi":0.6629},{"s":"B13","g":"N","yr":2013.0,"v":0.6555,"lo":0.6465,"hi":0.6645},{"s":"B13","g":"N","yr":2015.6,"v":0.6499,"lo":0.6409,"hi":0.6589},{"s":"B13","g":"N","yr":2018.1,"v":0.6427,"lo":0.6307,"hi":0.6547},
{"s":"B14","g":"N","yr":1988.0,"v":0.615,"lo":0.601,"hi":0.629},{"s":"B14","g":"N","yr":1992.0,"v":0.622,"lo":0.612,"hi":0.632},{"s":"B14","g":"N","yr":1996.0,"v":0.63,"lo":0.622,"hi":0.638},{"s":"B14","g":"N","yr":2000.0,"v":0.638,"lo":0.63,"hi":0.646},{"s":"B14","g":"N","yr":2004.0,"v":0.634,"lo":0.626,"hi":0.642},{"s":"B14","g":"N","yr":2008.0,"v":0.628,"lo":0.62,"hi":0.636},{"s":"B14","g":"N","yr":2012.0,"v":0.622,"lo":0.614,"hi":0.63},{"s":"B14","g":"N","yr":2016.0,"v":0.62,"lo":0.61,"hi":0.63},{"s":"B14","g":"N","yr":2019.0,"v":0.622,"lo":0.609,"hi":0.635}
],
"pts":[
{"g":"H","yr":1968.9,"v":0.8396},{"g":"H","yr":1970,"v":0.836},{"g":"H","yr":1971,"v":0.8308},{"g":"H","yr":1982.9,"v":0.8815},{"g":"H","yr":1982,"v":0.8671},{"g":"H","yr":1984,"v":0.8604},{"g":"H","yr":1985,"v":0.8447},{"g":"H","yr":1986,"v":0.8692},{"g":"H","yr":1986.9,"v":0.8783},{"g":"H","yr":1988,"v":0.858},{"g":"H","yr":1988.9,"v":0.874},{"g":"H","yr":1990,"v":0.8612},{"g":"H","yr":1990.9,"v":0.8772},{"g":"H","yr":1992,"v":0.8556},{"g":"H","yr":1993.1,"v":0.8652},{"g":"H","yr":1996.1,"v":0.8636},{"g":"H","yr":1997,"v":0.8668},{"g":"H","yr":2000.1,"v":0.8652},{"g":"H","yr":2001.2,"v":0.8596},{"g":"H","yr":2005.1,"v":0.8652},{"g":"H","yr":2012,"v":0.818},{"g":"H","yr":2012.9,"v":0.8028},{"g":"H","yr":2014,"v":0.8092},{"g":"H","yr":2015,"v":0.8188},{"g":"H","yr":2016.1,"v":0.8116},{"g":"H","yr":2017,"v":0.8076},{"g":"H","yr":2018.1,"v":0.814},
{"g":"N","yr":1999,"v":0.8492},{"g":"N","yr":2003,"v":0.8492},{"g":"N","yr":2007.1,"v":0.8756},
{"g":"N","yr":1997.1,"v":0.8943},{"g":"N","yr":1999,"v":0.8924},{"g":"N","yr":2001,"v":0.8716},{"g":"N","yr":2004,"v":0.8788},{"g":"N","yr":2005.1,"v":0.866},{"g":"N","yr":2008.1,"v":0.87},{"g":"N","yr":2010,"v":0.8788},{"g":"N","yr":2011,"v":0.8788},{"g":"N","yr":2012,"v":0.8612},{"g":"N","yr":2012.9,"v":0.87},{"g":"N","yr":2014,"v":0.866},{"g":"N","yr":2016,"v":0.8868},{"g":"N","yr":2017,"v":0.8716},
{"g":"N","yr":1994.1,"v":0.866},{"g":"N","yr":1995,"v":0.8548},{"g":"N","yr":1996.1,"v":0.8388},{"g":"N","yr":1997.1,"v":0.8444},{"g":"N","yr":1998.1,"v":0.8388},{"g":"N","yr":2000.1,"v":0.838},{"g":"N","yr":2001,"v":0.8404},{"g":"N","yr":2002,"v":0.8452},{"g":"N","yr":2004.1,"v":0.8436},{"g":"N","yr":2005.1,"v":0.8428},{"g":"N","yr":2006,"v":0.8492},{"g":"N","yr":2007.1,"v":0.8436},{"g":"N","yr":2008.1,"v":0.8436},{"g":"N","yr":2009.1,"v":0.8441},{"g":"N","yr":2010,"v":0.8428},{"g":"N","yr":2011,"v":0.8492},{"g":"N","yr":2012,"v":0.842},{"g":"N","yr":2012.9,"v":0.842},{"g":"N","yr":2014,"v":0.838},{"g":"N","yr":2015.1,"v":0.8476},{"g":"N","yr":2016,"v":0.8492},{"g":"N","yr":2017,"v":0.85},{"g":"N","yr":2018.1,"v":0.8644},{"g":"N","yr":2019,"v":0.858},
{"g":"H","yr":1988.1,"v":0.8076},{"g":"H","yr":1988.9,"v":0.8268},{"g":"H","yr":1989.8,"v":0.8164},{"g":"H","yr":1990.9,"v":0.8164},{"g":"H","yr":1993,"v":0.8076},{"g":"H","yr":1995,"v":0.802},{"g":"H","yr":1997,"v":0.8204},{"g":"H","yr":1998.1,"v":0.7988},{"g":"H","yr":1999,"v":0.806},{"g":"H","yr":2000.1,"v":0.8028},{"g":"H","yr":2001,"v":0.8028},{"g":"H","yr":2001.9,"v":0.7972},
{"g":"D","yr":1993,"v":0.794},{"g":"D","yr":1997,"v":0.8084},{"g":"D","yr":2003,"v":0.8124},{"g":"D","yr":2004,"v":0.818},{"g":"D","yr":2005.1,"v":0.814},{"g":"D","yr":2006,"v":0.8044},{"g":"D","yr":2007.1,"v":0.7988},{"g":"D","yr":2008,"v":0.7948},{"g":"D","yr":2008.9,"v":0.798},{"g":"D","yr":2010,"v":0.7932},{"g":"D","yr":2011,"v":0.7964},{"g":"D","yr":2012.9,"v":0.7884},{"g":"D","yr":2016,"v":0.7948},{"g":"D","yr":2017,"v":0.7964},{"g":"D","yr":2019,"v":0.8196},{"g":"D","yr":2019.9,"v":0.7988},
{"g":"D","yr":1998.8,"v":0.8051},{"g":"D","yr":2000.8,"v":0.8075},{"g":"D","yr":2002.9,"v":0.8123},{"g":"D","yr":2004.9,"v":0.8139},{"g":"H","yr":1995,"v":0.8019},{"g":"D","yr":1992.9,"v":0.7931},{"g":"D","yr":1991.9,"v":0.7907},{"g":"D","yr":1990.9,"v":0.7795},{"g":"D","yr":1990,"v":0.7747},{"g":"D","yr":1988.9,"v":0.7691},{"g":"D","yr":1987,"v":0.7683},{"g":"D","yr":1985.9,"v":0.7459},{"g":"H","yr":1994,"v":0.7787},{"g":"D","yr":1995,"v":0.7779},{"g":"H","yr":1996,"v":0.7747},{"g":"D","yr":1997,"v":0.7739},{"g":"H","yr":1998,"v":0.7787},{"g":"D","yr":1999,"v":0.7779},{"g":"N","yr":2000.1,"v":0.7643},{"g":"D","yr":1998,"v":0.7691},{"g":"D","yr":2002.1,"v":0.7659},{"g":"H","yr":2004,"v":0.7587},{"g":"D","yr":2004.9,"v":0.7755},{"g":"D","yr":2005.9,"v":0.7483},{"g":"D","yr":2007.1,"v":0.7563},{"g":"N","yr":2009,"v":0.7947},{"g":"H","yr":2010,"v":0.7547},{"g":"D","yr":2010.9,"v":0.7531},{"g":"N","yr":2012,"v":0.7891},{"g":"H","yr":2013,"v":0.7563},{"g":"D","yr":2014,"v":0.7515},{"g":"H","yr":2014.9,"v":0.7371},{"g":"D","yr":2015.9,"v":0.7947},{"g":"H","yr":2017,"v":0.8139},{"g":"D","yr":2018,"v":0.8147},{"g":"D","yr":2019.9,"v":0.7987},{"g":"N","yr":2019,"v":0.7851},{"g":"D","yr":2019.9,"v":0.7675},{"g":"H","yr":2019.9,"v":0.7451},{"g":"D","yr":1984,"v":0.7147},{"g":"N","yr":1985.9,"v":0.6763},{"g":"D","yr":1987.1,"v":0.6891},{"g":"H","yr":1989.9,"v":0.6779},{"g":"D","yr":1991,"v":0.6723},{"g":"H","yr":1992.9,"v":0.7067},{"g":"D","yr":1994,"v":0.7355},{"g":"H","yr":1996,"v":0.7419},{"g":"D","yr":1995,"v":0.7403},{"g":"N","yr":1998.8,"v":0.7483},{"g":"H","yr":2000.1,"v":0.7195},{"g":"H","yr":2001.1,"v":0.7163},{"g":"D","yr":2002.1,"v":0.7267},{"g":"N","yr":2002.9,"v":0.7459},{"g":"H","yr":2004.1,"v":0.7291},{"g":"H","yr":2004.9,"v":0.7195},{"g":"H","yr":2005.9,"v":0.7115},{"g":"D","yr":2006.9,"v":0.7179},{"g":"H","yr":2007.9,"v":0.7131},{"g":"D","yr":2009,"v":0.7403},{"g":"H","yr":2010,"v":0.7211},{"g":"H","yr":2011,"v":0.7019},{"g":"H","yr":2012,"v":0.7243},{"g":"D","yr":2013,"v":0.7147},{"g":"H","yr":2014,"v":0.7275},{"g":"H","yr":2014.9,"v":0.6987},{"g":"D","yr":2015.9,"v":0.7003},{"g":"H","yr":2017,"v":0.7195},{"g":"N","yr":2018,"v":0.6923},{"g":"H","yr":2018.9,"v":0.7067},{"g":"D","yr":2019.9,"v":0.7035},
{"g":"N","yr":1984,"v":0.6419},{"g":"N","yr":1985,"v":0.6131},{"g":"N","yr":1988,"v":0.6491},{"g":"N","yr":1989,"v":0.6235},{"g":"N","yr":1990,"v":0.6507},{"g":"D","yr":1990,"v":0.6395},{"g":"D","yr":1991,"v":0.6715},{"g":"N","yr":1991.9,"v":0.6443},{"g":"N","yr":1992.9,"v":0.6435},{"g":"N","yr":1995,"v":0.6707},{"g":"N","yr":1992.9,"v":0.6139},{"g":"N","yr":1991.9,"v":0.5955},{"g":"D","yr":1994,"v":0.5955},{"g":"D","yr":1995,"v":0.5971},{"g":"D","yr":1996,"v":0.6083},{"g":"D","yr":1998,"v":0.6051},{"g":"N","yr":1999,"v":0.6043},{"g":"D","yr":2000.1,"v":0.6035},{"g":"D","yr":2002,"v":0.6011},{"g":"D","yr":2002,"v":0.5955},{"g":"N","yr":2003,"v":0.6075},{"g":"H","yr":2003,"v":0.5779},{"g":"N","yr":2004,"v":0.5771},{"g":"H","yr":2005,"v":0.5787},{"g":"H","yr":2005.9,"v":0.5755},{"g":"N","yr":2006.9,"v":0.5931},{"g":"D","yr":2007.9,"v":0.5835},{"g":"N","yr":2009,"v":0.5891},{"g":"N","yr":2010,"v":0.6011},{"g":"N","yr":2011,"v":0.5947},{"g":"H","yr":2012,"v":0.5979},{"g":"H","yr":2013,"v":0.5931},{"g":"N","yr":2014,"v":0.5931},{"g":"N","yr":2015,"v":0.5947},{"g":"N","yr":2016,"v":0.5947},{"g":"N","yr":2017,"v":0.5899},{"g":"N","yr":2018,"v":0.5907},{"g":"N","yr":2019,"v":0.5947},{"g":"N","yr":2020,"v":0.5867},{"g":"D","yr":2019,"v":0.5787},{"g":"N","yr":2019.9,"v":0.5787},{"g":"N","yr":2014,"v":0.5739},{"g":"N","yr":2015,"v":0.5587},{"g":"N","yr":2016,"v":0.5635},{"g":"D","yr":2017,"v":0.5739},{"g":"D","yr":2018,"v":0.5547},{"g":"D","yr":2007.9,"v":0.5675},{"g":"D","yr":2009,"v":0.5603},{"g":"D","yr":2011,"v":0.5683},{"g":"D","yr":2012,"v":0.5627},{"g":"D","yr":2013,"v":0.5547},{"g":"D","yr":2014,"v":0.5595},{"g":"H","yr":2004,"v":0.5619},{"g":"H","yr":2006.9,"v":0.5539},{"g":"D","yr":2011,"v":0.5451},{"g":"D","yr":2013,"v":0.5403},{"g":"H","yr":2004.9,"v":0.5403},{"g":"H","yr":2019,"v":0.5419},{"g":"H","yr":2020,"v":0.5499},{"g":"D","yr":1988,"v":0.5555},{"g":"D","yr":1989,"v":0.5451},{"g":"D","yr":1995,"v":0.5651},{"g":"D","yr":1990,"v":0.5851},{"g":"N","yr":1991,"v":0.5755},{"g":"D","yr":1999,"v":0.5483},
{"g":"D","yr":1987,"v":0.5179},{"g":"D","yr":1989,"v":0.5451},{"g":"D","yr":1990.9,"v":0.5419},{"g":"D","yr":1990.9,"v":0.5235},{"g":"D","yr":1992,"v":0.4366},{"g":"D","yr":1994,"v":0.4654},{"g":"D","yr":1996,"v":0.4987},{"g":"D","yr":1997,"v":0.4907},{"g":"D","yr":1998,"v":0.4739},{"g":"D","yr":1998.9,"v":0.5483},{"g":"D","yr":2000,"v":0.539},{"g":"D","yr":2001,"v":0.5294},{"g":"D","yr":2002,"v":0.539},{"g":"D","yr":2003,"v":0.5003},{"g":"D","yr":2004,"v":0.5352},{"g":"D","yr":2007.9,"v":0.5299},{"g":"D","yr":2014,"v":0.5107},{"g":"D","yr":2016,"v":0.5067},{"g":"D","yr":2013,"v":0.5395},{"g":"D","yr":2015.1,"v":0.5387},{"g":"H","yr":2005,"v":0.5406},{"g":"H","yr":2009,"v":0.515},{"g":"H","yr":2011,"v":0.5118},{"g":"H","yr":2012,"v":0.4915},{"g":"H","yr":2014,"v":0.4939},{"g":"H","yr":2013,"v":0.4515},{"g":"H","yr":2015,"v":0.443},{"g":"H","yr":2016,"v":0.5219},{"g":"H","yr":2016,"v":0.4283},{"g":"H","yr":2017,"v":0.5294},{"g":"H","yr":2018,"v":0.4259},{"g":"H","yr":2019,"v":0.5211},{"g":"H","yr":2019.9,"v":0.4299},{"g":"H","yr":2019.9,"v":0.5499},{"g":"H","yr":2010,"v":0.5331},{"g":"H","yr":2012,"v":0.5339},{"g":"H","yr":2017,"v":0.4043},{"g":"H","yr":2020,"v":0.43}
],
"trend":[
{"region":"Greenland","g":"D","est":0.00386,"lo":0.00336,"hi":0.0044,"len":32.6},
{"region":"S Georgia","g":"D","est":0.00344,"lo":0.00279,"hi":0.00409,"len":24.6},
{"region":"W Coast S Island NZ","g":"D","est":0.0028,"lo":0.00188,"hi":0.00373,"len":24.6},
{"region":"Portugal","g":"D","est":0.00217,"lo":0.00067,"hi":0.00368,"len":14.6},
{"region":"N Ireland Q1","g":"D","est":0.00207,"lo":0.0003,"hi":0.00384,"len":14.6},
{"region":"S Gulf of St. Lawrence","g":"D","est":0.00149,"lo":0.00093,"hi":0.00202,"len":23.1},
{"region":"Chatham Rise NZ","g":"D","est":0.00137,"lo":0.00064,"hi":0.00212,"len":24.6},
{"region":"N Sea Q1","g":"D","est":0.00136,"lo":0.001,"hi":0.00173,"len":32.6},
{"region":"Scotland Shelf Sea Q1","g":"D","est":0.00118,"lo":0.00071,"hi":0.00165,"len":32.6},
{"region":"Gulf of Alaska","g":"D","est":0.00108,"lo":0.00051,"hi":0.00165,"len":32.6},
{"region":"W Coast US","g":"N","est":0.00098,"lo":-0.00032,"hi":0.00228,"len":14.6},
{"region":"Scotian Shelf Summer","g":"D","est":0.00095,"lo":0.00054,"hi":0.00134,"len":32.6},
{"region":"Sub-Antarctic NZ","g":"N","est":0.00067,"lo":-0.00046,"hi":0.00183,"len":15.7},
{"region":"Indian Ocean ZA","g":"N","est":0.00064,"lo":-0.00037,"hi":0.00165,"len":24.6},
{"region":"Atlantic Ocean ZA","g":"N","est":0.00056,"lo":-0.00037,"hi":0.00149,"len":15.7},
{"region":"Iceland","g":"N","est":0.00053,"lo":-0.00009,"hi":0.00113,"len":24.6},
{"region":"Aleutian Islands","g":"N","est":0.00045,"lo":-0.00019,"hi":0.00103,"len":32.6},
{"region":"Mediterranean","g":"N","est":0.00017,"lo":-0.00046,"hi":0.00079,"len":23.1},
{"region":"E Coast S Island NZ","g":"N","est":0.00004,"lo":-0.00066,"hi":0.00074,"len":24.6},
{"region":"Eastern Bering Sea","g":"N","est":-0.00004,"lo":-0.00041,"hi":0.00033,"len":36.1},
{"region":"Chile","g":"N","est":-0.00024,"lo":-0.00137,"hi":0.00092,"len":14.6},
{"region":"Namibia","g":"N","est":-0.00056,"lo":-0.00154,"hi":0.00041,"len":24.6},
{"region":"N Gulf of St. Lawrence","g":"N","est":-0.00066,"lo":-0.00224,"hi":0.00095,"len":15.7},
{"region":"NE US Fall","g":"H","est":-0.00085,"lo":-0.00105,"hi":-0.00065,"len":52.6},
{"region":"Irish Sea","g":"N","est":-0.00098,"lo":-0.00228,"hi":0.00033,"len":15.7},
{"region":"Baltic Sea Q1","g":"H","est":-0.00105,"lo":-0.00194,"hi":-0.00011,"len":15.7},
{"region":"Newfoundland","g":"H","est":-0.00163,"lo":-0.0023,"hi":-0.00095,"len":24.6},
{"region":"Bay of Biscay","g":"H","est":-0.00181,"lo":-0.00253,"hi":-0.00108,"len":24.6},
{"region":"Barents Sea Norway Q3","g":"H","est":-0.00202,"lo":-0.003,"hi":-0.001,"len":16.8},
{"region":"Gulf of Mexico Fall","g":"H","est":-0.00232,"lo":-0.00271,"hi":-0.00186,"len":32.6},
{"region":"Queen Charlotte Sound","g":"H","est":-0.00241,"lo":-0.00381,"hi":-0.00097,"len":16.8},
{"region":"SE US Summer","g":"H","est":-0.0029,"lo":-0.00339,"hi":-0.0024,"len":27.6},
{"region":"English Channel","g":"H","est":-0.00315,"lo":-0.00393,"hi":-0.00233,"len":27.6},
{"region":"Rockall Plateau","g":"H","est":-0.00575,"lo":-0.00836,"hi":-0.0031,"len":15.7}
]},
"hconcat":[
{"width":968,"height":1149,
"title":{"text":"a.","anchor":"start","frame":"bounds","orient":"top","baseline":"top","offset":0,"dy":43,"fontSize":56,"fontWeight":"bold","color":"#000000"},
"layer":[
{"data":{"name":"fit"},"mark":{"type":"area","color":"#e8e8e8","opacity":1},
"encoding":{"x":{"field":"yr","type":"quantitative","title":"Year","scale":{"domain":[1965.3,2022.1],"nice":false,"zero":false},"axis":{"values":[1980,2000,2020],"format":"d","titlePadding":2,"titleX":506}},
"y":{"field":"lo","type":"quantitative","title":["β-diversity","(Jaccard dissimilarity)"],"scale":{"domain":[0.3795,0.9308],"nice":false,"zero":false},"axis":{"values":[0.4,0.5,0.6,0.7,0.8,0.9],"format":".1f","titlePadding":8,"titleLineHeight":29}},
"y2":{"field":"hi"}}},
{"data":{"name":"curves"},"mark":{"type":"area","interpolate":"monotone","fillOpacity":0.13},
"encoding":{"x":{"field":"yr","type":"quantitative","title":"Year"},"y":{"field":"lo","type":"quantitative","title":["β-diversity","(Jaccard dissimilarity)"]},"y2":{"field":"hi"},"detail":{"field":"s"},
"color":{"field":"g","type":"nominal","scale":{"domain":["D","H","N"],"range":["#D81B60","#FFC107","#1E88E5"]},"legend":null}}},
{"data":{"name":"pts"},"mark":{"type":"circle","size":16,"opacity":0.5},
"encoding":{"x":{"field":"yr","type":"quantitative","title":"Year"},"y":{"field":"v","type":"quantitative","title":["β-diversity","(Jaccard dissimilarity)"]},
"color":{"field":"g","type":"nominal","scale":{"domain":["D","H","N"],"range":["#D81B60","#FFC107","#1E88E5"]},"legend":null}}},
{"data":{"name":"curves"},"mark":{"type":"line","interpolate":"monotone","strokeWidth":2},
"encoding":{"x":{"field":"yr","type":"quantitative","title":"Year"},"y":{"field":"v","type":"quantitative","title":["β-diversity","(Jaccard dissimilarity)"]},"detail":{"field":"s"},
"color":{"field":"g","type":"nominal","scale":{"domain":["D","H","N"],"range":["#D81B60","#FFC107","#1E88E5"]},"legend":null}}},
{"data":{"name":"fit"},"mark":{"type":"line","color":"#222222","strokeWidth":2.6},
"encoding":{"x":{"field":"yr","type":"quantitative","title":"Year"},"y":{"field":"v","type":"quantitative","title":["β-diversity","(Jaccard dissimilarity)"]}}}
]},
{"width":865,"height":1149,
"title":{"text":"b.","anchor":"start","frame":"bounds","orient":"top","baseline":"top","offset":0,"dy":43,"dx":-50,"fontSize":56,"fontWeight":"bold","color":"#000000"},
"layer":[
{"data":{"name":"trend"},"mark":{"type":"rule","color":"#3a3a3a","strokeWidth":3.4},
"encoding":{"x":{"field":"lo","type":"quantitative","title":["β-diversity trend","(Jaccard dissimilarity)"],"scale":{"domain":[-0.00903,0.00503],"nice":false,"zero":false},
"axis":{"values":[-0.0075,-0.005,-0.0025,0,0.0025,0.005],"labelExpr":"datum.value < -0.007 ? '-0.0075' : datum.value < -0.004 ? '' : datum.value < -0.001 ? '-0.0025' : datum.value < 0.001 ? '0' : datum.value < 0.004 ? '0.0025' : ''","titlePadding":2,"titleLineHeight":37}},
"x2":{"field":"hi"},
"y":{"field":"region","type":"nominal","title":null,"sort":null,"scale":{"type":"point","padding":0.6,"domain":["Greenland","S Georgia","W Coast S Island NZ","Portugal","N Ireland Q1","S Gulf of St. Lawrence","Chatham Rise NZ","N Sea Q1","Scotland Shelf Sea Q1","Gulf of Alaska","W Coast US","Scotian Shelf Summer","Sub-Antarctic NZ","Indian Ocean ZA","Atlantic Ocean ZA","Iceland","Aleutian Islands","Mediterranean","E Coast S Island NZ","Eastern Bering Sea","Chile","Namibia","N Gulf of St. Lawrence","NE US Fall","Irish Sea","Baltic Sea Q1","Newfoundland","Bay of Biscay","Barents Sea Norway Q3","Gulf of Mexico Fall","Queen Charlotte Sound","SE US Summer","English Channel","Rockall Plateau"]},
"axis":{"labelFontSize":18,"labelFontWeight":"bold","tickSize":6,"labelPadding":3,"labelLimit":400}}}},
{"data":{"name":"trend"},"mark":{"type":"circle","opacity":1},
"encoding":{"x":{"field":"est","type":"quantitative","title":["β-diversity trend","(Jaccard dissimilarity)"]},
"y":{"field":"region","type":"nominal","title":null,"sort":null},
"color":{"field":"g","type":"nominal","scale":{"domain":["D","H","N"],"range":["#D81B60","#FFC107","#1E88E5"]},
"legend":{"title":"Dissimilarity trend","orient":"none","legendX":20,"legendY":679,"titleFontSize":37,"titleFontWeight":"normal","titleColor":"#000000","titleLimit":600,"titlePadding":18,"labelFontSize":35,"labelColor":"#000000","labelLimit":600,"symbolType":"circle","symbolSize":1024,"symbolStrokeWidth":0,"symbolOpacity":1,"rowPadding":6,"labelOffset":24,"padding":0,
"labelExpr":"datum.label == 'D' ? 'Differentiation' : datum.label == 'H' ? 'Homogenization' : 'No β-diversity trend'"}},
"size":{"field":"len","type":"quantitative","scale":{"domain":[10,60],"range":[191,2037],"zero":false},
"legend":{"title":["Survey period length","(years)"],"orient":"none","legendX":91,"legendY":47,"values":[17,27.5,42,50,55],
"labelExpr":"datum.value < 20 ? '20' : datum.value < 30 ? '30' : datum.value < 45 ? '40' : datum.value < 52 ? '50' : ''",
"titleFontSize":37,"titleFontWeight":"normal","titleColor":"#000000","titleLimit":600,"titleLineHeight":40,"titlePadding":31,"labelFontSize":34,"labelColor":"#000000","labelOffset":23,"rowPadding":0,"padding":0,
"symbolType":"circle","symbolFillColor":"#000000","symbolStrokeWidth":0,"symbolOpacity":1,
"encode":{"labels":{"update":{"dy":{"value":14}}}}}}}},
{"data":{"values":[{"z":0}]},"mark":{"type":"rule","color":"#000000","strokeWidth":2},
"encoding":{"x":{"field":"z","type":"quantitative","title":["β-diversity trend","(Jaccard dissimilarity)"]}}}
]}
],
"spacing":236,
"bounds":"flush",
"resolve":{"scale":{"color":"independent","size":"independent"}}
}
